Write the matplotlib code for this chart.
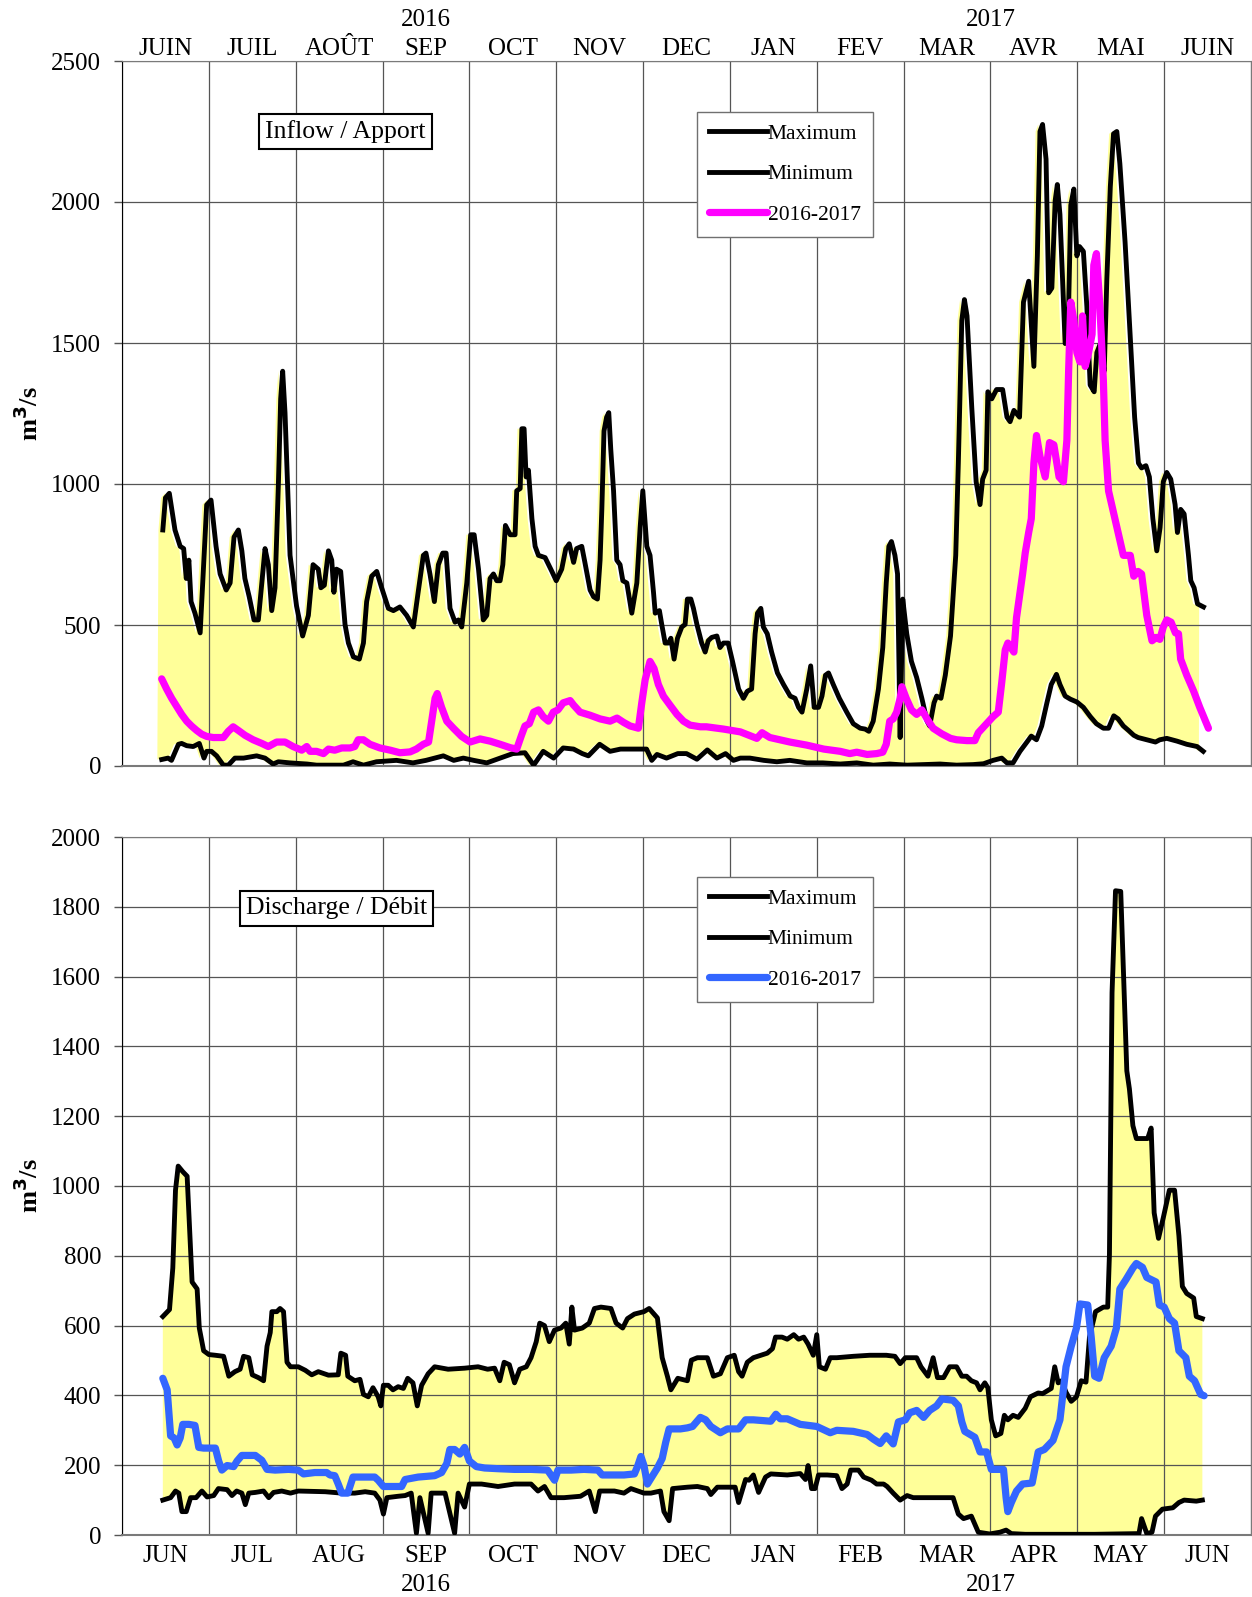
import matplotlib.pyplot as plt
import numpy as np

plt.rcParams['font.family'] = ['Liberation Serif', 'DejaVu Serif']

# x positions are in months from 1 June 2016 (0 = start of JUIN, 13 = end of JUIN 2017)
months_fr = ['JUIN', 'JUIL', 'AOÛT', 'SEP', 'OCT', 'NOV', 'DEC', 'JAN', 'FEV', 'MAR', 'AVR', 'MAI', 'JUIN']
months_en = ['JUN', 'JUL', 'AUG', 'SEP', 'OCT', 'NOV', 'DEC', 'JAN', 'FEB', 'MAR', 'APR', 'MAY', 'JUN']

# ---------------- Inflow / Apport ----------------
inflow_max_t = [0.47, 0.50, 0.545, 0.61, 0.67, 0.71, 0.74, 0.77, 0.795, 0.84, 0.90, 0.975, 1.025, 1.083, 1.13,
                1.20, 1.245, 1.29, 1.34, 1.38, 1.415, 1.465, 1.52, 1.57, 1.61, 1.647, 1.685, 1.724, 1.762, 1.80,
                1.827, 1.85, 1.877, 1.935, 2.01, 2.08, 2.146, 2.20, 2.26, 2.29, 2.33, 2.377, 2.415, 2.44, 2.47,
                2.518, 2.568, 2.607, 2.664, 2.733, 2.78, 2.817, 2.875, 2.933, 2.99, 3.067, 3.125, 3.2, 3.278,
                3.355, 3.41, 3.47, 3.50, 3.546, 3.597, 3.643, 3.693, 3.732, 3.777, 3.835, 3.873, 3.912, 3.97,
                4.015, 4.055, 4.105, 4.16, 4.20, 4.238, 4.277, 4.315, 4.354, 4.385, 4.415, 4.47, 4.526, 4.545,
                4.585, 4.604, 4.63, 4.653, 4.68, 4.72, 4.757, 4.795, 4.872, 4.95, 5.00, 5.063, 5.11, 5.15, 5.20,
                5.235, 5.294, 5.33, 5.39, 5.43, 5.474, 5.505, 5.525, 5.55, 5.58, 5.605, 5.628, 5.66, 5.697, 5.735,
                5.767, 5.813, 5.87, 5.928, 5.966, 5.997, 6.024, 6.043, 6.08, 6.12, 6.14, 6.188, 6.215, 6.254,
                6.293, 6.32, 6.357, 6.396, 6.446, 6.484, 6.51, 6.55, 6.58, 6.62, 6.675, 6.715, 6.75, 6.79, 6.85,
                6.886, 6.925, 6.98, 7.03, 7.10, 7.155, 7.20, 7.25, 7.29, 7.317, 7.356, 7.385, 7.43, 7.48, 7.547,
                7.617, 7.694, 7.75, 7.79, 7.83, 7.885, 7.93, 7.97, 8.02, 8.06, 8.10, 8.135, 8.19, 8.26, 8.345,
                8.42, 8.50, 8.556, 8.60, 8.65, 8.71, 8.76, 8.80, 8.83, 8.86, 8.90, 8.93, 8.95, 8.96, 8.99, 9.036,
                9.09, 9.15, 9.21, 9.27, 9.30, 9.35, 9.38, 9.43, 9.48, 9.54, 9.60, 9.63, 9.67, 9.70, 9.73, 9.785,
                9.835, 9.88, 9.91, 9.95, 9.97, 10.015, 10.07, 10.14, 10.19, 10.226, 10.27, 10.335, 10.38, 10.44,
                10.50, 10.54, 10.57, 10.60, 10.64, 10.67, 10.707, 10.745, 10.77, 10.80, 10.86, 10.90, 10.925,
                10.96, 10.995, 11.025, 11.07, 11.11, 11.148, 11.194, 11.225, 11.265, 11.31, 11.34, 11.38, 11.417,
                11.455, 11.49, 11.55, 11.608, 11.66, 11.704, 11.74, 11.79, 11.83, 11.87, 11.915, 11.953, 11.99,
                12.03, 12.076, 12.126, 12.153, 12.19, 12.23, 12.28, 12.307, 12.345, 12.384, 12.453]
inflow_max_v = [837, 951, 967, 837, 779, 771, 665, 730, 583, 542, 472, 926, 943, 779, 681,
                624, 649, 812, 837, 763, 665, 600, 518, 518, 649, 771, 714, 551, 632, 992,
                1302, 1400, 1253, 747, 567, 461, 534, 714, 698, 632, 641, 763, 730, 616, 698,
                690, 502, 436, 387, 379, 436, 583, 673, 690, 632, 559, 551, 564, 534,
                493, 616, 747, 755, 681, 583, 714, 755, 755, 559, 510, 518, 493, 649,
                820, 820, 698, 518, 534, 665, 681, 657, 657, 714, 853, 820, 820, 976,
                984, 1196, 1196, 1025, 1049, 877, 779, 747, 739, 690, 657, 698, 771, 788, 722,
                771, 779, 722, 624, 600, 592, 730, 910, 1188, 1237, 1253, 1123, 976, 730, 714,
                657, 649, 542, 649, 845, 976, 861, 779, 747, 616, 542, 551, 502, 436,
                436, 453, 379, 453, 493, 502, 592, 592, 559, 502, 436, 404, 444, 456, 461,
                420, 436, 436, 371, 273, 240, 265, 273, 469, 542, 559, 493, 469, 404, 330,
                289, 248, 240, 208, 191, 273, 355, 208, 208, 248, 322, 330, 289, 240, 191,
                150, 134, 131, 123, 159, 273, 420, 649, 779, 796, 747, 681, 300, 101, 592, 469,
                371, 314, 240, 159, 142, 224, 248, 240, 322, 461, 747, 1074, 1580, 1654, 1596, 1270,
                1008, 927, 1017, 1049, 1327, 1302, 1335, 1335, 1237, 1221, 1261, 1237, 1645, 1719,
                1417, 1809, 2250, 2275, 2152, 1678, 1695, 2005, 2062, 1956, 1498, 1629, 1989,
                2046, 1809, 1842, 1825, 1629, 1351, 1327, 1466, 1498, 1400, 1727, 2054, 2242,
                2250, 2136, 1858, 1531, 1237, 1074, 1057, 1065, 1025, 877, 763, 845, 1008,
                1041, 1017, 927, 828, 910, 894, 747, 657, 632, 575, 564]

inflow_min_t = [0.457, 0.53, 0.57, 0.65, 0.687, 0.745, 0.82, 0.89, 0.944, 0.975, 1.03, 1.09, 1.167, 1.224,
                1.30, 1.40, 1.55, 1.647, 1.74, 1.80, 1.935, 2.13, 2.24, 2.55, 2.66, 2.78, 2.93, 3.16, 3.35,
                3.5, 3.7, 3.82, 3.93, 4.05, 4.2, 4.354, 4.5, 4.64, 4.74, 4.85, 4.97, 5.08, 5.2, 5.3, 5.37, 5.5,
                5.62, 5.74, 5.89, 6.04, 6.1, 6.16, 6.27, 6.4, 6.5, 6.62, 6.74, 6.85, 6.95, 7.04, 7.12, 7.23,
                7.39, 7.54, 7.69, 7.885, 8.07, 8.27, 8.46, 8.65, 8.84, 9.04, 9.42, 9.61, 9.8, 9.92, 10.03,
                10.13, 10.19, 10.26, 10.34, 10.42, 10.47, 10.53, 10.59, 10.65, 10.70, 10.76, 10.80, 10.86,
                10.92, 10.995, 11.07, 11.15, 11.22, 11.30, 11.36, 11.42, 11.47, 11.53, 11.59, 11.65, 11.70,
                11.80, 11.90, 11.95, 12.03, 12.15, 12.26, 12.38, 12.45]
inflow_min_v = [23, 28, 20, 77, 80, 72, 69, 80, 28, 52, 52, 36, 3, 3,
                28, 28, 36, 28, 7, 15, 11, 7, 3, 3, 15, 3, 15, 20, 11,
                20, 36, 20, 28, 20, 11, 28, 44, 47, 3, 52, 28, 64, 60, 44, 36, 77,
                52, 60, 60, 60, 20, 41, 28, 44, 44, 24, 57, 28, 44, 20, 28, 28,
                20, 15, 20, 11, 11, 7, 11, 3, 7, 3, 7, 3, 5, 8, 20,
                28, 11, 11, 52, 85, 106, 93, 142, 224, 289, 325, 289, 248,
                237, 227, 208, 175, 150, 134, 134, 178, 167, 142, 126, 109, 101,
                93, 85, 93, 98, 88, 77, 69, 52]

inflow_cur_t = [0.457, 0.514, 0.572, 0.63, 0.687, 0.745, 0.80, 0.86, 0.917, 0.975, 1.05, 1.167, 1.224, 1.28,
                1.34, 1.416, 1.51, 1.61, 1.685, 1.78, 1.877, 1.97, 2.07, 2.127, 2.165, 2.24, 2.32, 2.377, 2.45,
                2.53, 2.626, 2.68, 2.72, 2.78, 2.856, 2.97, 3.09, 3.2, 3.317, 3.39, 3.47, 3.53, 3.566, 3.605,
                3.63, 3.68, 3.74, 3.816, 3.91, 4.008, 4.123, 4.24, 4.354, 4.47, 4.545, 4.60, 4.64, 4.69, 4.74,
                4.795, 4.85, 4.91, 4.966, 5.02, 5.08, 5.16, 5.20, 5.274, 5.39, 5.505, 5.62, 5.70, 5.774, 5.85,
                5.946, 5.985, 6.024, 6.08, 6.126, 6.176, 6.234, 6.31, 6.39, 6.465, 6.54, 6.66, 6.73, 6.925,
                7.12, 7.31, 7.37, 7.46, 7.69, 7.885, 8.08, 8.27, 8.38, 8.46, 8.58, 8.69, 8.76, 8.80, 8.84,
                8.88, 8.92, 8.96, 8.98, 9.03, 9.09, 9.15, 9.21, 9.27, 9.34, 9.44, 9.54, 9.61, 9.73, 9.82,
                9.86, 9.94, 10.03, 10.09, 10.13, 10.17, 10.20, 10.27, 10.30, 10.34, 10.37, 10.40, 10.44,
                10.47, 10.50, 10.53, 10.57, 10.63, 10.68, 10.73, 10.79, 10.84, 10.88, 10.90, 10.925, 10.96,
                10.995, 11.03, 11.06, 11.09, 11.13, 11.17, 11.19, 11.22, 11.26, 11.30, 11.32, 11.36, 11.42,
                11.47, 11.53, 11.61, 11.65, 11.70, 11.74, 11.80, 11.86, 11.91, 11.95, 11.99, 12.03, 12.08,
                12.13, 12.165, 12.19, 12.26, 12.34, 12.41, 12.51]
inflow_cur_v = [309, 273, 240, 211, 183, 159, 142, 126, 113, 105, 101, 101, 123, 139,
                126, 109, 93, 80, 69, 85, 85, 69, 56, 69, 52, 52, 44, 60, 56,
                64, 64, 69, 93, 93, 77, 64, 56, 47, 50, 60, 77, 85, 159, 240,
                257, 208, 159, 134, 105, 85, 96, 88, 77, 65, 60, 109, 142, 150, 191,
                199, 175, 159, 191, 199, 224, 232, 216, 191, 180, 167, 159, 170, 155, 142,
                134, 224, 306, 371, 346, 289, 248, 216, 183, 159, 145, 139, 139, 131,
                121, 98, 118, 101, 85, 74, 60, 52, 44, 49, 41, 44, 49, 77, 159,
                167, 191, 240, 281, 240, 199, 183, 199, 167, 134, 114, 98, 93, 90, 90,
                118, 145, 175, 191, 297, 412, 436, 404, 526, 616, 681, 755, 828,
                877, 1074, 1172, 1098, 1025, 1147, 1139, 1025, 1008, 1155, 1400, 1645, 1580,
                1466, 1433, 1596, 1417, 1466, 1531, 1776, 1817, 1629, 1368, 1155, 975, 894,
                828, 747, 747, 673, 690, 681, 534, 444, 456, 449, 493, 518, 510,
                472, 469, 379, 322, 265, 208, 134]

# ---------------- Discharge / Débit ----------------
dis_max_t = [0.47, 0.547, 0.585, 0.616, 0.647, 0.70, 0.75, 0.777, 0.807, 0.865, 0.89, 0.94, 1.0, 1.075, 1.17,
             1.23, 1.30, 1.36, 1.40, 1.46, 1.50, 1.57, 1.63, 1.67, 1.707, 1.726, 1.783, 1.82, 1.86, 1.90, 1.94,
             2.03, 2.11, 2.185, 2.26, 2.377, 2.49, 2.52, 2.575, 2.60, 2.68, 2.74, 2.78, 2.836, 2.89, 2.95, 2.98,
             3.01, 3.065, 3.12, 3.18, 3.24, 3.29, 3.35, 3.40, 3.45, 3.525, 3.60, 3.755, 3.945, 4.10, 4.21,
             4.29, 4.35, 4.40, 4.46, 4.52, 4.58, 4.655, 4.71, 4.77, 4.81, 4.865, 4.92, 4.98, 5.055, 5.11,
             5.15, 5.18, 5.21, 5.30, 5.38, 5.44, 5.515, 5.63, 5.69, 5.765, 5.82, 5.90, 6.01, 6.07, 6.165,
             6.22, 6.28, 6.32, 6.40, 6.51, 6.556, 6.625, 6.74, 6.81, 6.89, 6.97, 7.05, 7.10, 7.14, 7.20,
             7.27, 7.43, 7.49, 7.525, 7.60, 7.66, 7.735, 7.79, 7.85, 7.90, 7.96, 8.0, 8.03, 8.10, 8.155,
             8.23, 8.42, 8.61, 8.80, 8.90, 8.96, 9.02, 9.15, 9.20, 9.28, 9.34, 9.39, 9.46, 9.53, 9.61,
             9.67, 9.725, 9.78, 9.84, 9.88, 9.935, 9.97, 10.01, 10.06, 10.12, 10.16, 10.20, 10.26, 10.32,
             10.40, 10.46, 10.55, 10.60, 10.70, 10.74, 10.78, 10.82, 10.87, 10.93, 10.99, 11.045, 11.10,
             11.14, 11.21, 11.30, 11.35, 11.37, 11.40, 11.44, 11.50, 11.54, 11.57, 11.60, 11.64, 11.68,
             11.81, 11.85, 11.885, 11.935, 11.99, 12.06, 12.12, 12.17, 12.21, 12.26, 12.34, 12.37, 12.44]
dis_max_v = [626, 646, 765, 988, 1057, 1041, 1028, 883, 725, 705, 593, 528, 517, 515, 512,
             455, 468, 475, 512, 508, 459, 451, 442, 541, 580, 640, 640, 649, 640, 495, 482,
             482, 472, 459, 468, 458, 459, 521, 515, 455, 442, 446, 403, 396, 422, 396, 370,
             429, 429, 416, 425, 420, 449, 436, 370, 429, 462, 482, 475, 478, 482, 475,
             478, 442, 495, 488, 436, 475, 482, 508, 554, 607, 600, 554, 587, 593, 607,
             547, 653, 587, 593, 607, 649, 653, 649, 607, 593, 620, 633, 640, 649, 622,
             508, 455, 416, 449, 442, 501, 508, 508, 455, 462, 508, 515, 468, 455, 495,
             508, 521, 534, 567, 567, 561, 574, 561, 567, 547, 515, 574, 482, 475, 508,
             508, 512, 515, 515, 512, 491, 508, 508, 482, 455, 508, 451, 451, 482, 482,
             455, 455, 442, 436, 416, 436, 422, 330, 284, 291, 343, 330, 343, 337,
             363, 396, 407, 405, 420, 482, 436, 442, 409, 383, 396, 442, 438,
             567, 640, 653, 653, 804, 1554, 1846, 1844, 1554, 1330, 1278, 1173, 1136,
             1136, 1166, 923, 850, 909, 988, 988, 857, 712, 692, 679, 626, 620]

dis_min_t = [0.47, 0.56, 0.616, 0.654, 0.69, 0.74, 0.79, 0.853, 0.92, 0.98, 1.056, 1.11, 1.21, 1.266, 1.32,
             1.38, 1.42, 1.46, 1.535, 1.63, 1.69, 1.745, 1.84, 1.94, 2.03, 2.34, 2.53, 2.68, 2.80, 2.91, 2.97,
             3.01, 3.05, 3.18, 3.26, 3.33, 3.39, 3.43, 3.525, 3.56, 3.72, 3.83, 3.87, 3.945, 4.0, 4.14, 4.33,
             4.52, 4.71, 4.79, 4.865, 4.94, 5.09, 5.28, 5.38, 5.45, 5.50, 5.67, 5.78, 5.86, 6.01, 6.09, 6.20,
             6.24, 6.30, 6.34, 6.51, 6.625, 6.74, 6.78, 6.855, 7.06, 7.10, 7.18, 7.22, 7.27, 7.33, 7.41, 7.47,
             7.66, 7.81, 7.87, 7.90, 7.94, 7.98, 8.02, 8.12, 8.23, 8.29, 8.35, 8.39, 8.48, 8.54, 8.63, 8.69,
             8.77, 8.81, 8.88, 8.96, 9.04, 9.11, 9.57, 9.63, 9.69, 9.78, 9.86, 9.99, 10.11, 10.18, 10.24,
             10.40, 10.80, 11.20, 11.71, 11.74, 11.80, 11.86, 11.90, 11.98, 12.10, 12.17, 12.23, 12.37, 12.44]
dis_min_v = [100, 107, 126, 120, 67, 67, 107, 107, 126, 109, 113, 133, 130, 113, 126,
             120, 87, 120, 122, 126, 107, 122, 126, 120, 126, 124, 120, 120, 124, 120, 100,
             60, 107, 111, 113, 120, 5, 107, 5, 120, 120, 5, 120, 80, 146, 146, 139,
             146, 146, 126, 139, 107, 107, 111, 126, 67, 126, 126, 120, 133, 120, 120, 126,
             67, 41, 133, 137, 139, 133, 116, 137, 137, 93, 159, 157, 172, 122, 166, 175,
             172, 176, 159, 199, 133, 133, 172, 172, 170, 133, 146, 186, 186, 166, 157, 146,
             146, 139, 120, 100, 113, 107, 107, 60, 47, 54, 8, 3, 8, 14, 4,
             2, 2, 2, 4, 47, 4, 8, 54, 74, 78, 93, 100, 97, 100]

dis_cur_t = [0.47, 0.52, 0.56, 0.60, 0.635, 0.67, 0.70, 0.77, 0.84, 0.884, 0.94, 1.075, 1.113, 1.15, 1.21,
             1.286, 1.325, 1.38, 1.535, 1.61, 1.67, 1.764, 1.917, 2.03, 2.09, 2.22, 2.357, 2.395, 2.45, 2.49,
             2.53, 2.60, 2.66, 2.76, 2.91, 2.95, 3.01, 3.22, 3.26, 3.41, 3.60, 3.68, 3.74, 3.775, 3.83, 3.89,
             3.945, 4.0, 4.08, 4.175, 4.33, 4.52, 4.71, 4.90, 4.98, 5.02, 5.17, 5.32, 5.48, 5.53, 5.78, 5.90,
             5.94, 5.975, 6.01, 6.05, 6.10, 6.165, 6.22, 6.26, 6.30, 6.43, 6.51, 6.57, 6.66, 6.72, 6.78, 6.89,
             6.97, 7.10, 7.18, 7.27, 7.47, 7.53, 7.58, 7.66, 7.81, 8.0, 8.155, 8.23, 8.42, 8.58, 8.65, 8.73,
             8.80, 8.88, 8.94, 9.02, 9.07, 9.15, 9.23, 9.30, 9.38, 9.44, 9.57, 9.63, 9.67, 9.705, 9.82, 9.88,
             9.955, 10.01, 10.15, 10.18, 10.20, 10.24, 10.30, 10.37, 10.48, 10.55, 10.62, 10.72, 10.80,
             10.87, 10.93, 10.99, 11.03, 11.12, 11.16, 11.20, 11.25, 11.31, 11.39, 11.45, 11.49, 11.56,
             11.64, 11.68, 11.75, 11.80, 11.85, 11.906, 11.945, 12.0, 12.06, 12.12, 12.17, 12.25, 12.29,
             12.35, 12.42, 12.46]
dis_cur_v = [449, 416, 284, 278, 258, 278, 317, 317, 314, 251, 249, 249, 212, 186, 199,
             196, 212, 228, 228, 214, 188, 186, 188, 186, 175, 179, 179, 172, 170, 146,
             120, 120, 166, 166, 166, 157, 139, 139, 159, 166, 170, 179, 205, 245, 245, 232,
             251, 212, 196, 192, 190, 188, 188, 186, 157, 186, 186, 188, 186, 172, 172, 175,
             199, 225, 199, 146, 166, 192, 219, 265, 304, 304, 307, 311, 337, 330, 311, 293,
             304, 304, 330, 330, 326, 346, 333, 333, 317, 311, 293, 300, 297, 288, 275, 262,
             284, 261, 324, 330, 350, 357, 337, 357, 370, 390, 386, 370, 324, 297, 280, 238,
             238, 188, 188, 107, 67, 93, 126, 146, 149, 238, 245, 271, 330,
             482, 541, 593, 662, 659, 567, 455, 449, 508, 541, 593, 705, 732,
             765, 778, 767, 738, 732, 725, 659, 653, 620, 607, 528, 508, 455,
             442, 403, 399]

FILL = '#FFFF99'
GRID = '#555555'
W, H = 1252, 1597

fig = plt.figure(figsize=(W / 100, H / 100), dpi=100)


def px_axes(left, top, right, bottom):
    return fig.add_axes([left / W, 1 - bottom / H, (right - left) / W, (bottom - top) / H])


def setup(ax, ymax, ystep, labels, top_labels):
    ax.set_xlim(0, 13)
    ax.set_ylim(0, ymax)
    ax.set_yticks(np.arange(0, ymax + 1, ystep))
    ax.set_xticks(np.arange(0, 14))
    ax.set_xticks(np.arange(0.5, 13, 1), minor=True)
    ax.set_xticklabels([], minor=False)
    ax.set_xticklabels(labels, minor=True)
    ax.grid(True, which='major', color=GRID, lw=0.9)
    ax.set_axisbelow(True)
    ax.tick_params(axis='x', which='both', length=0, labelsize=18)
    ax.tick_params(axis='y', length=6, width=1, labelsize=18, pad=9, color=GRID)
    if top_labels:
        ax.xaxis.tick_top()
        ax.tick_params(axis='x', which='minor', pad=1)
    else:
        ax.tick_params(axis='x', which='minor', pad=7)
    for side in ['top', 'right', 'bottom']:
        ax.spines[side].set_color('#7a7a7a')
    ax.spines['bottom'].set_linewidth(1.5)
    ax.spines['left'].set_color('black')
    ax.text(-0.083, 0.5, 'm$^\\mathbf{3}$/s', transform=ax.transAxes, rotation=90, fontsize=19,
            fontweight='bold', ha='center', va='center')


def draw(ax, mx_t, mx_v, mn_t, mn_v, cur_t, cur_v, cur_color, title, title_xy, leg_anchor, shift):
    ax.fill(np.concatenate([mx_t, mn_t[::-1]]) - shift, np.concatenate([mx_v, mn_v[::-1]]),
            color=FILL, lw=0, zorder=0.3)
    ax.plot(mx_t, mx_v, color='black', lw=3.5, label='Maximum', zorder=3)
    ax.plot(mn_t, mn_v, color='black', lw=3.5, label='Minimum', zorder=3)
    ax.plot(cur_t, cur_v, color=cur_color, lw=5.2, label='2016-2017', zorder=4,
            solid_capstyle='round', solid_joinstyle='round')
    ax.text(title_xy[0], title_xy[1], title, transform=ax.transAxes, fontsize=18.5,
            ha='center', va='center', zorder=6,
            bbox=dict(boxstyle='square,pad=0.25', fc='white', ec='black', lw=1.5))
    leg = ax.legend(loc='upper left', bbox_to_anchor=leg_anchor, fontsize=15.5, frameon=True,
                    fancybox=False, edgecolor='#707070', framealpha=1, handlelength=2.7,
                    handletextpad=0.05, labelspacing=0.95, borderpad=0.55, borderaxespad=0)
    leg.get_frame().set_linewidth(1.0)
    leg.set_zorder(7)


# top chart
ax1 = px_axes(122, 61, 1251, 766)
setup(ax1, 2500, 500, months_fr, True)
draw(ax1, inflow_max_t, inflow_max_v, inflow_min_t, inflow_min_v, inflow_cur_t, inflow_cur_v,
     '#FF00FF', 'Inflow / Apport', (0.198, 0.90), (0.509, 0.928), 0.05)
year_y = 2500 + 2500 * 30 / 705
ax1.text(3.5, year_y, '2016', fontsize=18, ha='center', va='bottom')
ax1.text(10.0, year_y, '2017', fontsize=18, ha='center', va='bottom')

# bottom chart
ax2 = px_axes(122, 837, 1251, 1535)
setup(ax2, 2000, 200, months_en, False)
draw(ax2, dis_max_t, dis_max_v, dis_min_t, dis_min_v, dis_cur_t, dis_cur_v,
     '#3366FF', 'Discharge / Débit', (0.19, 0.8976), (0.509, 0.943), 0.0)
ax2.text(3.5, -2000 * 39 / 698, '2016', fontsize=18, ha='center', va='top')
ax2.text(10.0, -2000 * 39 / 698, '2017', fontsize=18, ha='center', va='top')

fig.savefig('out.png', dpi=100)
